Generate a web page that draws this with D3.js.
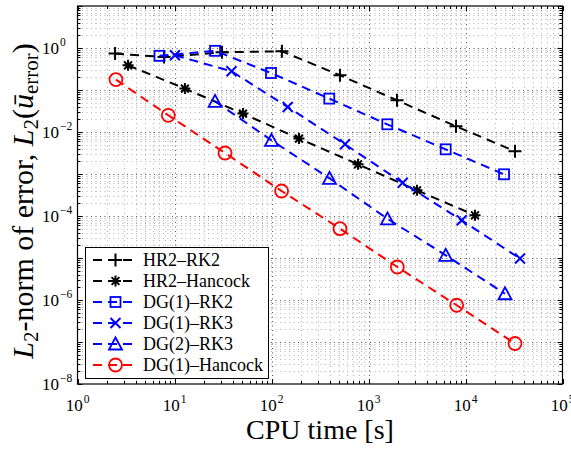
<!DOCTYPE html>
<html>
<head>
<meta charset="utf-8">
<script src="https://cdn.jsdelivr.net/npm/d3@7"></script>
<style>
  html, body { margin: 0; padding: 0; background: #fff; }
  svg { display: block; }
  text { font-family: "Liberation Serif", "Times New Roman", serif; fill: #000; }
</style>
</head>
<body>
<svg id="chart" width="571" height="450"></svg>
<script>
// ---- Data ----
const seriesNames = ["HR2–RK2", "HR2–Hancock", "DG(1)–RK2", "DG(1)–RK3", "DG(2)–RK3", "DG(1)–Hancock"];
const seriesColors = ["#000000", "#000000", "#0000ff", "#0000ff", "#0000ff", "#ff0000"];
const seriesMarkers = ["plus", "star", "square", "cross", "triangle", "circle"];

const hr2rk2Time = [2.44, 7.8, 30.9, 128, 508, 1968, 7980, 32360];
const hr2rk2Err  = [0.735, 0.611, 0.79, 0.834, 0.224, 0.0569, 0.01368, 0.00347];

const hr2HancockTime = [3.32, 12.8, 50.8, 192, 780, 3162, 12530];
const hr2HancockErr  = [0.387, 0.108, 0.0274, 0.00697, 0.0017, 4.09e-4, 1.04e-4];

const dg1rk2Time = [7.0, 26.2, 98.8, 394, 1563, 6250, 24950];
const dg1rk2Err  = [0.652, 0.857, 0.254, 0.0624, 0.01525, 0.00387, 9.84e-4];

const dg1rk3Time = [10.1, 38.7, 147, 573, 2254, 9140, 36480];
const dg1rk3Err  = [0.67, 0.279, 0.0394, 0.00509, 6.17e-4, 7.9e-5, 9.7e-6];

const dg2rk3Time = [26.2, 100, 396, 1570, 6250, 25540];
const dg2rk3Err  = [0.0538, 0.00634, 7.9e-4, 8.57e-5, 1.16e-5, 1.41e-6];

const dg1HancockTime = [2.49, 8.63, 33.2, 127, 508, 1982, 8110, 32360];
const dg1HancockErr  = [0.177, 0.025, 0.00316, 3.94e-4, 5.0e-5, 6.1e-6, 7.5e-7, 9.2e-8];

const xTickExps = [0, 1, 2, 3, 4, 5];
const yTickExps = [-8, -6, -4, -2, 0];

const xLabel = "CPU time [s]";

// ---- Build series table ----
const seriesTimes = [hr2rk2Time, hr2HancockTime, dg1rk2Time, dg1rk3Time, dg2rk3Time, dg1HancockTime];
const seriesErrs  = [hr2rk2Err, hr2HancockErr, dg1rk2Err, dg1rk3Err, dg2rk3Err, dg1HancockErr];
const series = seriesNames.map((name, i) => ({
  name, color: seriesColors[i], marker: seriesMarkers[i],
  points: seriesTimes[i].map((t, j) => ({ x: t, y: seriesErrs[i][j] }))
}));

// ---- Layout ----
const svg = d3.select("#chart");
const L = 77.5, R = 562.5, T = 6, B = 384;
const x = d3.scaleLog().domain([1, 1e5]).range([L, R]);
const y = d3.scaleLog().domain([1e-8, 1e1]).range([B, T]);

svg.append("rect").attr("width", 571).attr("height", 450).attr("fill", "#fff");

// ---- Grid (major + minor, dotted) ----
const gridG = svg.append("g");
const xGridVals = [];
for (let d = 0; d < 5; d++) for (let k = 1; k <= 9; k++) xGridVals.push({ v: k * Math.pow(10, d), major: k === 1 });
const yGridVals = [];
for (let d = -8; d < 1; d++) for (let k = 1; k <= 9; k++) yGridVals.push({ v: k * Math.pow(10, d), major: k === 1 });

xGridVals.filter(g => g.v > 1).forEach(g => {
  gridG.append("line")
    .attr("x1", Math.round(x(g.v)) + 0.5).attr("x2", Math.round(x(g.v)) + 0.5)
    .attr("y1", T).attr("y2", B)
    .attr("stroke", g.major ? "#555" : "#b4b4b4")
    .attr("stroke-width", 1)
    .attr("stroke-dasharray", "1,3.5");
});
yGridVals.filter(g => g.v > 1e-8).forEach(g => {
  gridG.append("line")
    .attr("y1", Math.round(y(g.v)) + 0.5).attr("y2", Math.round(y(g.v)) + 0.5)
    .attr("x1", L).attr("x2", R)
    .attr("stroke", g.major ? "#555" : "#b4b4b4")
    .attr("stroke-width", 1)
    .attr("stroke-dasharray", "1,3.5");
});

// ---- Ticks (inside, all four sides) ----
const tickG = svg.append("g").attr("stroke", "#000").attr("stroke-width", 1);
xGridVals.concat([{ v: 1e5, major: true }]).forEach(g => {
  const px = Math.round(x(g.v)) + 0.5, len = g.major ? 5 : 3;
  tickG.append("line").attr("x1", px).attr("x2", px).attr("y1", B).attr("y2", B - len);
  tickG.append("line").attr("x1", px).attr("x2", px).attr("y1", T).attr("y2", T + len);
});
yGridVals.concat([{ v: 1e1, major: true }]).forEach(g => {
  const py = Math.round(y(g.v)) + 0.5, len = g.major ? 5 : 3;
  tickG.append("line").attr("y1", py).attr("y2", py).attr("x1", L).attr("x2", L + len);
  tickG.append("line").attr("y1", py).attr("y2", py).attr("x1", R).attr("x2", R - len);
});

// ---- Series ----
const line = d3.line().x(d => x(d.x)).y(d => y(d.y));
const plotG = svg.append("g");

function drawMarker(g, type, color) {
  switch (type) {
    case "plus":
      g.append("path").attr("d", "M-6.5,0H6.5M0,-6.5V6.5").attr("stroke", color).attr("stroke-width", 2).attr("fill", "none");
      break;
    case "star": {
      const r = 5.5, c = r * Math.SQRT1_2;
      g.append("path").attr("d", `M${-r},0H${r}M0,${-r}V${r}M${-c},${-c}L${c},${c}M${-c},${c}L${c},${-c}`)
        .attr("stroke", color).attr("stroke-width", 2).attr("fill", "none");
      break;
    }
    case "square":
      g.append("rect").attr("x", -5).attr("y", -5).attr("width", 10).attr("height", 10)
        .attr("stroke", color).attr("stroke-width", 1.8).attr("fill", "none");
      break;
    case "cross":
      g.append("path").attr("d", "M-5,-5L5,5M-5,5L5,-5").attr("stroke", color).attr("stroke-width", 2).attr("fill", "none");
      break;
    case "triangle":
      g.append("path").attr("d", "M0,-6.5L6.5,5.5L-6.5,5.5Z").attr("stroke", color).attr("stroke-width", 1.8).attr("fill", "none");
      break;
    case "circle":
      g.append("circle").attr("r", 6.5).attr("stroke", color).attr("stroke-width", 1.8).attr("fill", "none");
      break;
  }
}

series.forEach(s => {
  plotG.append("path").datum(s.points).attr("d", line)
    .attr("fill", "none").attr("stroke", s.color).attr("stroke-width", 2)
    .attr("stroke-dasharray", "9,6");
  s.points.forEach(p => {
    const mg = plotG.append("g").attr("transform", `translate(${x(p.x)},${y(p.y)})`);
    drawMarker(mg, s.marker, s.color);
  });
});

// ---- Frame ----
svg.append("rect").attr("x", L).attr("y", T).attr("width", R - L).attr("height", B - T)
  .attr("fill", "none").attr("stroke", "#000").attr("stroke-width", 1.2);

// ---- Tick labels ----
const fmtExp = e => (e < 0 ? "\u2212" + Math.abs(e) : String(e));
xTickExps.forEach(e => {
  const t = svg.append("text").attr("x", x(Math.pow(10, e))).attr("y", 411)
    .attr("text-anchor", "middle").attr("font-size", 17);
  t.append("tspan").text("10");
  t.append("tspan").attr("font-size", 11.5).attr("dy", -8).attr("dx", 1).text(fmtExp(e));
});
yTickExps.forEach(e => {
  const t = svg.append("text").attr("x", 42).attr("y", y(Math.pow(10, e)) + 6)
    .attr("text-anchor", "start").attr("font-size", 17);
  t.append("tspan").text("10");
  t.append("tspan").attr("font-size", 11.5).attr("dy", -8).attr("dx", 1).text(fmtExp(e));
});

// ---- Axis labels ----
svg.append("text").attr("x", (L + R) / 2).attr("y", 439)
  .attr("text-anchor", "middle").attr("font-size", 28).text(xLabel);

const yl = svg.append("text").attr("text-anchor", "middle").attr("font-size", 30)
  .attr("transform", `translate(33,${201}) rotate(-90)`);
yl.append("tspan").attr("font-style", "italic").text("L");
yl.append("tspan").attr("font-size", 21).attr("dy", 5).text("2");
yl.append("tspan").attr("dy", -5).text("-norm of error, ");
yl.append("tspan").attr("font-style", "italic").text("L");
yl.append("tspan").attr("font-size", 21).attr("dy", 5).text("2");
yl.append("tspan").attr("dy", -5).text("(");
yl.append("tspan").attr("font-style", "italic").text("\u016B");
yl.append("tspan").attr("font-size", 21).attr("dy", 5).text("error");
yl.append("tspan").attr("dy", -5).text(")");

// ---- Legend ----
const lg = svg.append("g");
const legX = 85, legY = 247, legW = 183, legH = 131;
lg.append("rect").attr("x", legX + 0.5).attr("y", legY + 0.5).attr("width", legW).attr("height", legH)
  .attr("fill", "#fff").attr("stroke", "#000").attr("stroke-width", 1);
series.forEach((s, i) => {
  const ry = 260 + i * 21;
  lg.append("line").attr("x1", 93).attr("x2", 138).attr("y1", ry).attr("y2", ry)
    .attr("stroke", s.color).attr("stroke-width", 2).attr("stroke-dasharray", "9,6");
  const mg = lg.append("g").attr("transform", `translate(115.5,${ry})`);
  drawMarker(mg, s.marker, s.color);
  lg.append("text").attr("x", 143).attr("y", ry + 6).attr("font-size", 18).text(s.name);
});
</script>
</body>
</html>
